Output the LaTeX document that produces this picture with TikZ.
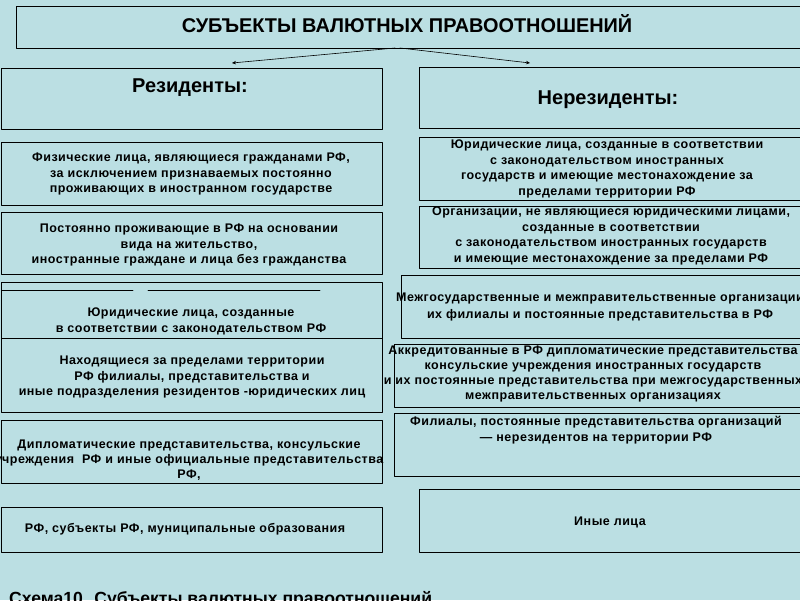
\documentclass[tikz,border=0pt]{standalone}
\usepackage{fontspec}
\setmainfont{Liberation Sans}
\newfontfamily\boxfont[LetterSpace=4]{Liberation Sans}
\usetikzlibrary{arrows.meta}
\definecolor{slideBg}{RGB}{187,223,227}
\tikzset{
	>={Stealth[length=4pt,width=3.5pt]},
	frame/.style={draw=black, line width=1.1pt, rectangle, inner sep=0pt, anchor=north west},
	boxtext/.style={font=\boxfont\bfseries\fontsize{12.5}{15.8}\selectfont, align=center, inner sep=0pt},
	headtext/.style={font=\bfseries\fontsize{20}{22}\selectfont, inner sep=0pt},
	link/.style={black, line width=0.6pt, ->},
}

\begin{document}
\begin{tikzpicture}[x=1pt, y=-1pt, line cap=round, line join=round]
		
		% ---- Slide background ----
		\fill[slideBg] (0,0) rectangle (800,600);
		\useasboundingbox (0,0) rectangle (800,600);
		
		% ---- Title ----
		\node[frame, minimum width=786pt, minimum height=42pt] (title) at (16,6) {};
		\node[headtext, font=\bfseries\fontsize{19.9}{22}\selectfont] (titletxt) at (407,24) {СУБЪЕКТЫ ВАЛЮТНЫХ ПРАВООТНОШЕНИЙ};
		
		% ---- Split into two groups ----
		\coordinate (splitL) at (395,48);
		\coordinate (splitR) at (400,48);
		\coordinate (resEnd) at (232,63);
		\coordinate (nonresEnd) at (530,63);
		\draw[link] (splitL) -- (resEnd);
		\draw[link] (splitR) -- (nonresEnd);
		
		% ---- Residents (left column) ----
		\node[frame, minimum width=381pt, minimum height=61pt] (res) at (0.8,68) {};
		\node[headtext] (restxt) at (190,88) {Резиденты:};
		
		\node[frame, minimum width=381pt, minimum height=63pt] (l1) at (0.8,142) {};
		\node[boxtext] (l1txt) at (191,174) {Физические лица, являющиеся гражданами РФ,\\за исключением признаваемых постоянно\\проживающих в иностранном государстве};
		
		\node[frame, minimum width=381pt, minimum height=62pt] (l2) at (0.8,212) {};
		\node[boxtext] (l2txt) at (189,245) {Постоянно проживающие в РФ на основании\\вида на жительство,\\иностранные граждане и лица без гражданства};
		
		\node[frame, minimum width=381pt, minimum height=56pt] (l3) at (0.8,282) {};
		\draw[line width=0.8pt] (2,290) -- (133,290);
		\draw[line width=0.8pt] (148,290) -- (320,290);
		\node[boxtext] (l3txt) at (191,321) {Юридические лица, созданные\\в соответствии с законодательством РФ};
		
		\node[frame, minimum width=381pt, minimum height=74pt] (l4) at (0.8,338) {};
		\node[boxtext] (l4txt) at (192,377) {Находящиеся за пределами территории\\РФ филиалы, представительства и\\иные подразделения резидентов -юридических лиц};
		
		\node[frame, minimum width=381pt, minimum height=63pt] (l5) at (0.8,420) {};
		\node[boxtext, font=\boxfont\bfseries\fontsize{12.5}{15}\selectfont] (l5txt) at (189,460) {Дипломатические представительства, консульские\\учреждения\ \ РФ и иные официальные представительства\\РФ,};
		
		\node[frame, minimum width=381pt, minimum height=45pt] (l6) at (0.8,507) {};
		\node[boxtext] (l6txt) at (185,529) {РФ, субъекты РФ, муниципальные образования};
		
		% ---- Non-residents (right column) ----
		\node[frame, minimum width=383pt, minimum height=61pt] (nonres) at (419,67) {};
		\node[headtext] (nonrestxt) at (608,100) {Нерезиденты:};
		
		\node[frame, minimum width=383pt, minimum height=63pt] (r1) at (419,137) {};
		\node[boxtext] (r1txt) at (607,169) {Юридические лица, созданные в соответствии\\с законодательством иностранных\\государств и имеющие местонахождение за\\пределами территории РФ};
		
		\node[frame, minimum width=383pt, minimum height=62pt] (r2) at (419,206) {};
		\node[boxtext, font=\boxfont\bfseries\fontsize{12.5}{15.6}\selectfont] (r2txt) at (611,236) {Организации, не являющиеся юридическими лицами,\\созданные в соответствии\\с законодательством иностранных государств\\и имеющие местонахождение за пределами РФ};
		
		\node[frame, minimum width=401pt, minimum height=63pt] (r3) at (401,275) {};
		\node[boxtext, font=\boxfont\bfseries\fontsize{12.5}{17}\selectfont] (r3txt) at (600,307) {Межгосударственные и межправительственные организации\\их филиалы и постоянные представительства в РФ};
		
		\node[frame, minimum width=408pt, minimum height=63pt] (r4) at (394,344) {};
		\node[boxtext, font=\boxfont\bfseries\fontsize{12.5}{14.7}\selectfont] (r4txt) at (593,374) {Аккредитованные в РФ дипломатические представительства\\консульские учреждения иностранных государств\\и их постоянные представительства при межгосударственных\\межправительственных организациях};
		
		\node[frame, minimum width=408pt, minimum height=63pt] (r5) at (394,413) {};
		\node[boxtext] (r5txt) at (596,430) {Филиалы, постоянные представительства организаций\\— нерезидентов на территории РФ};
		
		\node[frame, minimum width=383pt, minimum height=63pt] (r6) at (419,489) {};
		\node[boxtext] (r6txt) at (610,522) {Иные лица};
		
		% ---- Caption (cut by the slide edge) ----
		\node[headtext, font=\bfseries\fontsize{17.6}{20}\selectfont, anchor=base west] (caption) at (9,604.6) {Схема10. Субъекты валютных правоотношений};
		
	\end{tikzpicture}
\end{document}
